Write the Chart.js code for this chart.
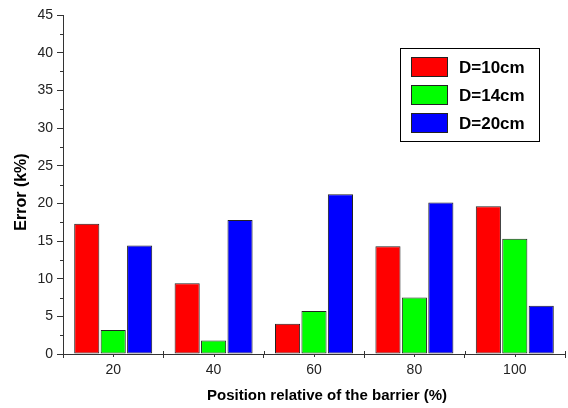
<!DOCTYPE html>
<html>
<head>
<meta charset="utf-8">
<script src="https://cdn.jsdelivr.net/npm/chart.js@4"></script>
<style>
  html, body { margin: 0; padding: 0; background: #fff; }
  #wrap { width: 568px; height: 408px; }
</style>
</head>
<body>
<div id="wrap"><canvas id="graph" width="568" height="408"></canvas></div>
<script>
// data
var positions = ['20', '40', '60', '80', '100'];
var seriesNames = ['D=10cm', 'D=14cm', 'D=20cm'];
var d10 = [17.3, 9.4, 4.0, 14.3, 19.6];
var d14 = [3.2, 1.8, 5.7, 7.5, 15.3];
var d20 = [14.4, 17.8, 21.2, 20.1, 6.4];
var seriesColors = ['#ff0000', '#00ff00', '#0000ff'];
var yTicks = [0, 5, 10, 15, 20, 25, 30, 35, 40, 45];
var xTitle = 'Position relative of the barrier (%)';
var yTitle = 'Error (k%)';

var axisColor = '#333333';
var fontFam = '"Liberation Sans", Arial, sans-serif';

// little minor ticks on y (every 2.5) and the inner marks on x
var minorTicks = {
    id: 'minorTicks',
    beforeDatasetsDraw: function(chart){
        var ctx = chart.ctx;
        var y = chart.scales.y, x = chart.scales.x;
        ctx.save();
        ctx.strokeStyle = axisColor;
        ctx.lineWidth = 1;
        ctx.beginPath();
        for (var i = 0; i < yTicks.length - 1; i++){
            var v = (yTicks[i] + yTicks[i + 1]) / 2;
            var py = Math.round(y.getPixelForValue(v)) + 0.5;
            ctx.moveTo(y.right - 3, py);
            ctx.lineTo(y.right, py);
        }
        var half = (x.getPixelForValue(1) - x.getPixelForValue(0)) / 2;
        for (var j = 0; j < positions.length; j++){
            var cx = Math.round(x.getPixelForValue(j)) + 0.5;
            ctx.moveTo(cx, x.top);
            ctx.lineTo(cx, x.top + 3);
            var bx = Math.round(x.getPixelForValue(j) + half) + 0.5;
            ctx.moveTo(bx, x.top);
            ctx.lineTo(bx, x.top - 3);
        }
        ctx.stroke();
        ctx.restore();
    }
};

// axis titles, placed where the reference has them
var axisTitles = {
    id: 'axisTitles',
    afterDraw: function(chart){
        var ctx = chart.ctx;
        ctx.save();
        ctx.fillStyle = '#000';
        ctx.font = 'bold 15px ' + fontFam;
        ctx.textAlign = 'center';
        ctx.textBaseline = 'middle';
        ctx.fillText(xTitle, 327, 396);
        ctx.translate(21.5, 192);
        ctx.rotate(-Math.PI / 2);
        ctx.font = 'bold 16px ' + fontFam;
        ctx.fillText(yTitle, 0, 0);
        ctx.restore();
    }
};

// boxed legend in the upper right
var boxLegend = {
    id: 'boxLegend',
    afterDraw: function(chart){
        var ctx = chart.ctx;
        var left = 400, top = 48, w = 139, h = 93;
        ctx.save();
        ctx.strokeStyle = '#000';
        ctx.lineWidth = 1;
        ctx.strokeRect(left + 0.5, top + 0.5, w, h);
        ctx.font = 'bold 17px ' + fontFam;
        ctx.textBaseline = 'middle';
        chart.data.datasets.forEach(function(ds, i){
            var cy = 67 + i * 28;
            ctx.fillStyle = ds.backgroundColor;
            ctx.fillRect(411, cy - 9.5, 37, 19);
            ctx.strokeStyle = '#222';
            ctx.strokeRect(411.5, cy - 9.5, 36, 19);
            ctx.fillStyle = '#000';
            ctx.fillText(ds.label, 459, cy + 1);
        });
        ctx.restore();
    }
};

function makeSet(i, values){
    return {
        label: seriesNames[i],
        data: values,
        backgroundColor: seriesColors[i],
        borderColor: '#222222',
        borderWidth: 1,
        borderSkipped: false,
        barPercentage: 0.95,
        categoryPercentage: 0.79
    };
}

new Chart(document.getElementById('graph'), {
    type: 'bar',
    data: {
        labels: positions,
        datasets: [makeSet(0, d10), makeSet(1, d14), makeSet(2, d20)]
    },
    options: {
        responsive: false,
        animation: false,
        devicePixelRatio: 1,
        layout: { padding: { top: 15, right: 3, left: 0, bottom: 0 } },
        plugins: {
            legend: { display: false },
            tooltip: { enabled: false }
        },
        scales: {
            x: {
                offset: true,
                grid: {
                    offset: true,
                    drawOnChartArea: false,
                    drawTicks: true,
                    tickLength: 4,
                    color: axisColor
                },
                border: { color: axisColor, width: 1 },
                ticks: {
                    color: '#222',
                    padding: 4,
                    font: { family: fontFam, size: 14 }
                },
                afterFit: function(scale){ scale.height = 54; }
            },
            y: {
                min: 0,
                max: 45,
                grid: {
                    drawOnChartArea: false,
                    drawTicks: true,
                    tickLength: 6,
                    color: axisColor
                },
                border: { color: axisColor, width: 1 },
                ticks: {
                    stepSize: 5,
                    color: '#222',
                    padding: 4,
                    font: { family: fontFam, size: 14 }
                },
                afterFit: function(scale){ scale.width = 63; }
            }
        }
    },
    plugins: [minorTicks, axisTitles, boxLegend]
});
</script>
</body>
</html>
